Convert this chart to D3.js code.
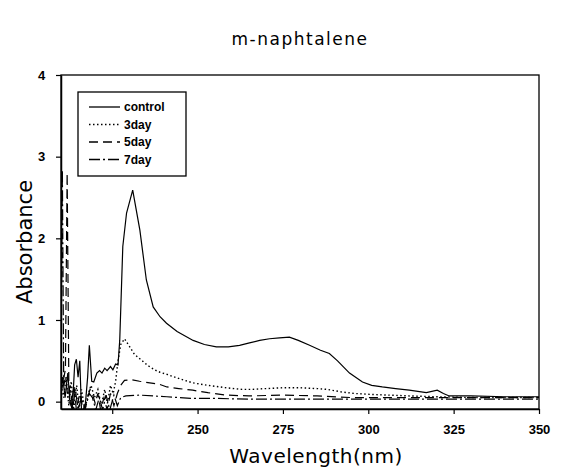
<!DOCTYPE html>
<html>
<head>
<meta charset="utf-8">
<script src="https://cdn.jsdelivr.net/npm/d3@7"></script>
<style>
  body { margin: 0; background: #fff; }
  svg { display: block; }
</style>
</head>
<body>
<svg id="chart"></svg>
<script>
let W = 562;
let H = 469;

// values (wavelength nm, absorbance)
let controlData = [
    [210, 0.1], [210.5, 0.3], [211.2, 0.05], [212, 0.35], [212.6, 0.0], [213.3, -0.1],
    [214, 0.45], [214.5, 0.52], [215, 0.3], [215.5, 0.5], [216, -0.1], [217, -0.1],
    [217.8, 0.3], [218.3, 0.69], [219, 0.25], [219.6, 0.24], [220.5, 0.35], [221.3, 0.38],
    [222, 0.35], [222.8, 0.41], [223.5, 0.38], [224.5, 0.43], [225.2, 0.39], [226, 0.46],
    [226.7, 0.45], [227.2, 0.75], [228.1, 1.9], [229.2, 2.31], [231, 2.59], [233.1, 2.1],
    [235, 1.49], [237, 1.16], [239, 1.04], [240.9, 0.96], [244, 0.86], [248.7, 0.75],
    [252, 0.7], [255.5, 0.67], [259, 0.67], [262.3, 0.69], [265.2, 0.72], [268.2, 0.75],
    [271.1, 0.77], [274, 0.78], [276.9, 0.79], [279.5, 0.75], [282.8, 0.69], [286, 0.63],
    [288.6, 0.59], [291, 0.5], [294.5, 0.35], [298.3, 0.24], [301, 0.2], [304.1, 0.18],
    [308, 0.16], [312, 0.14], [317, 0.11], [320.2, 0.14], [322, 0.1], [323.7, 0.07],
    [330, 0.07], [340, 0.06], [350, 0.06]
];

let day3Data = [
    [210, 0.2], [210.8, 0.05], [211.5, 0.3], [212.3, -0.05], [213, 0.25], [213.7, -0.1],
    [214.6, 0.2], [215.3, -0.1], [216, 0.15], [217, -0.1], [218, 0.1], [218.8, 0.2],
    [219.8, 0.05], [220.8, 0.15], [221.8, -0.05], [222.8, 0.15], [223.6, -0.02], [224.5, 0.2],
    [225.3, 0.1], [226, 0.25], [226.7, 0.5], [227.5, 0.7], [228.6, 0.77], [230, 0.68],
    [231.5, 0.58], [233.5, 0.51], [235.5, 0.44], [237.4, 0.39], [239, 0.36], [241.3, 0.33],
    [244, 0.29], [248.6, 0.23], [253, 0.2], [258.4, 0.17], [263, 0.15], [266, 0.15],
    [270, 0.16], [275, 0.17], [280, 0.17], [285, 0.16], [288, 0.15], [292, 0.12],
    [296, 0.1], [300, 0.09], [306, 0.08], [312, 0.07], [320, 0.06], [330, 0.05], [350, 0.05]
];

let day5Data = [
    [210, 0.1], [211.3, 0.4], [211.8, 2.8], [212.3, 0.2], [213, -0.05], [213.8, 0.2],
    [214.5, -0.1], [215.5, 0.1], [216.5, -0.1], [217.8, 0.05], [218.5, 0.15], [219.2, 0.1],
    [220, -0.02], [220.8, 0.1], [221.6, -0.1], [222.6, 0.05], [223.5, -0.1], [224.5, 0.1],
    [225.5, -0.05], [226.5, 0.1], [227.5, 0.2], [228.6, 0.26], [230.5, 0.27], [233, 0.25],
    [236, 0.23], [239, 0.21], [241, 0.18], [244.5, 0.16], [248.6, 0.14], [253, 0.11],
    [258.4, 0.08], [265, 0.07], [275, 0.08], [285, 0.07], [295, 0.05], [310, 0.05],
    [330, 0.05], [350, 0.05]
];

let day7Data = [
    [210, 0.3], [210.4, 2.84], [210.8, 0.2], [211.4, 0.3], [212, 0.05], [212.7, 0.2],
    [213.4, -0.1], [214.2, 0.15], [215, -0.1], [216, 0.05], [217, -0.1], [218.3, 0.1],
    [219.2, 0.05], [220.2, -0.1], [221.2, 0.05], [222.2, -0.1], [223.2, 0.08], [224.3, -0.1],
    [225.5, 0.08], [226.5, -0.05], [227.5, 0.05], [229, 0.07], [233, 0.08], [237, 0.07],
    [241, 0.06], [248, 0.04], [255, 0.04], [265, 0.03], [280, 0.03], [300, 0.03],
    [320, 0.03], [350, 0.03]
];

let seriesNames = ["control", "3day", "5day", "7day"];
let seriesDash = ["none", "1.5,2.5", "9,5", "11,3,2,3"];
let xTicks = [225, 250, 275, 300, 325, 350];
let yTicks = [0, 1, 2, 3, 4];

let svg = d3.select("#chart").attr("width", W).attr("height", H);

let x = d3.scaleLinear().domain([210, 350]).range([61, 539]);
let y = d3.scaleLinear().domain([-0.09, 4]).range([409, 75]);

svg.append("defs").append("clipPath").attr("id", "clip")
    .append("rect")
    .attr("x", x(210)).attr("y", y(4))
    .attr("width", x(350) - x(210)).attr("height", y(-0.09) - y(4));

// box
svg.append("rect")
    .attr("x", x(210)).attr("y", y(4))
    .attr("width", x(350) - x(210)).attr("height", y(-0.09) - y(4))
    .attr("fill", "none").attr("stroke", "#000").attr("stroke-width", 1.3);

let xAxis = svg.append("g")
    .attr("transform", "translate(0," + y(-0.09) + ")")
    .call(d3.axisBottom(x).tickValues(xTicks).tickFormat(d3.format("d")).tickSize(5).tickSizeOuter(0));

let yAxis = svg.append("g")
    .attr("transform", "translate(" + x(210) + ",0)")
    .call(d3.axisLeft(y).tickValues(yTicks).tickFormat(d3.format("d")).tickSize(5).tickSizeOuter(0));

[xAxis, yAxis].forEach(function (g) {
    g.select(".domain").attr("stroke-width", 1.5);
    g.selectAll(".tick line").attr("stroke-width", 1.2);
    g.selectAll("text")
        .style("font-family", "'Liberation Sans Narrow', 'Liberation Sans', Arial, sans-serif")
        .style("font-weight", "bold")
        .style("font-size", "13px")
        .attr("fill", "#000");
});
xAxis.selectAll("text").attr("dy", "1.3em");
yAxis.selectAll("text").attr("dx", "-0.6em");

let line = d3.line()
    .x(function (d) { return x(d[0]); })
    .y(function (d) { return y(d[1]); });

let allSeries = [controlData, day3Data, day5Data, day7Data];

svg.append("g").attr("clip-path", "url(#clip)")
    .selectAll("path")
    .data(allSeries)
    .enter().append("path")
    .attr("d", line)
    .attr("fill", "none")
    .attr("stroke", "#000")
    .attr("stroke-width", function (d, i) { return i === 1 ? 1.4 : 1.2; })
    .attr("stroke-dasharray", function (d, i) { return seriesDash[i]; });

// legend
let legend = svg.append("g").attr("transform", "translate(78,92)");
legend.append("rect")
    .attr("width", 108).attr("height", 84)
    .attr("fill", "#fff").attr("stroke", "#000").attr("stroke-width", 1.3);

let items = legend.selectAll("g.item")
    .data(seriesNames)
    .enter().append("g")
    .attr("class", "item")
    .attr("transform", function (d, i) { return "translate(0," + (15 + i * 17.5) + ")"; });

items.append("line")
    .attr("x1", 11).attr("x2", 42)
    .attr("stroke", "#000")
    .attr("stroke-width", 1.3)
    .attr("stroke-dasharray", function (d, i) { return seriesDash[i]; });

items.append("text")
    .attr("x", 46).attr("dy", "0.35em")
    .style("font-family", "'Liberation Sans', Arial, sans-serif")
    .style("font-weight", "bold")
    .style("font-size", "12px")
    .text(function (d) { return d; });

// titles
svg.append("text")
    .attr("x", 300).attr("y", 45)
    .attr("text-anchor", "middle")
    .style("font-family", "'DejaVu Sans', sans-serif")
    .style("font-size", "17px")
    .style("letter-spacing", "1.5px")
    .text("m-naphtalene");

svg.append("text")
    .attr("x", 316).attr("y", 463)
    .attr("text-anchor", "middle")
    .style("font-family", "'DejaVu Sans', sans-serif")
    .style("font-size", "20px")
    .style("letter-spacing", "0.5px")
    .text("Wavelength(nm)");

svg.append("text")
    .attr("transform", "translate(32,242) rotate(-90)")
    .attr("text-anchor", "middle")
    .style("font-family", "'DejaVu Sans', sans-serif")
    .style("font-size", "21px")
    .text("Absorbance");
</script>
</body>
</html>
